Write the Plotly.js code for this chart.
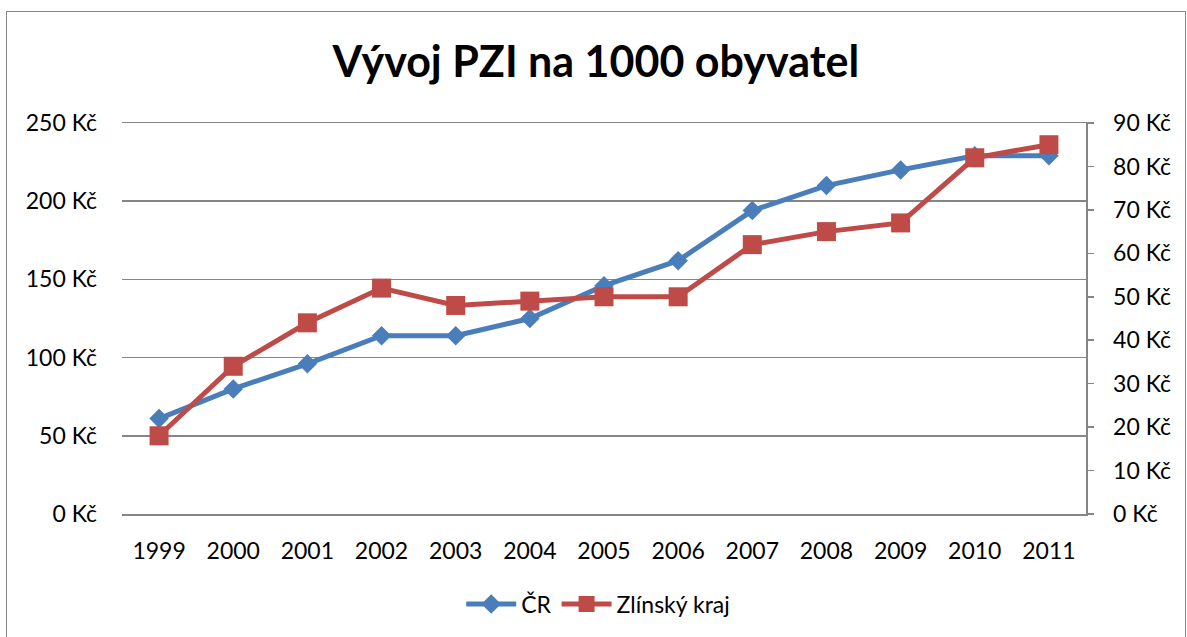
<!DOCTYPE html>
<html>
<head>
<meta charset="utf-8">
<script src="https://cdn.plot.ly/plotly-3.0.1.min.js"></script>
<style>
html,body{margin:0;padding:0;background:#fff;}
#wrap{position:relative;width:1187px;height:637px;overflow:hidden;}
#chart{width:1187px;height:637px;}
#frame{position:absolute;left:6px;top:11px;width:1180px;height:640px;border:1.5px solid #868686;pointer-events:none;box-sizing:border-box;}
</style>
</head>
<body>
<div id="wrap"><div id="chart"></div><div id="frame"></div></div>
<script>
const years = ['1999','2000','2001','2002','2003','2004','2005','2006','2007','2008','2009','2010','2011'];
const crValues = [61, 80, 96, 114, 114, 125, 146, 162, 194, 210, 220, 229, 229];
const zlinValues = [18, 34, 44, 52, 48, 49, 50, 50, 62, 65, 67, 82, 85];
const seriesNames = ['ČR', 'Zlínský kraj'];
const chartTitle = 'Vývoj PZI na 1000 obyvatel';

const FONT = 'Lato, "Open Sans", sans-serif';
const GRID = '#868686';
const traces = [
  {x: years, y: crValues, name: seriesNames[0], type: 'scatter', mode: 'lines+markers',
   line: {color: '#4a7ebb', width: 5}, marker: {symbol: 'diamond', size: 15, color: '#4a7ebb'}, yaxis: 'y'},
  {x: years, y: zlinValues, name: seriesNames[1], type: 'scatter', mode: 'lines+markers',
   line: {color: '#be4b48', width: 5}, marker: {symbol: 'square', size: 19, color: '#be4b48'}, yaxis: 'y2'}
];
const layout = {
  width: 1187, height: 637,
  margin: {l: 122, r: 101, t: 123, b: 123},
  paper_bgcolor: '#fff', plot_bgcolor: '#fff',
  font: {family: FONT, size: 23, color: '#000'},
  title: {text: '<b>' + chartTitle + '</b>', font: {family: FONT, size: 43, color: '#000'},
          x: 0.502, xanchor: 'center', y: 0.903, yanchor: 'middle'},
  xaxis: {type: 'category', range: [-0.5, 12.5], showgrid: false, zeroline: false,
          showline: true, mirror: true, linecolor: GRID, linewidth: 1.5,
          ticks: '', ticklabelstandoff: 16, tickfont: {size: 23}},
  yaxis: {range: [0, 250], dtick: 50, ticksuffix: ' Kč', showgrid: true, gridcolor: GRID, gridwidth: 1.5,
          zeroline: false, showline: false, ticks: '', ticklabelstandoff: 24, tickfont: {size: 23}},
  yaxis2: {range: [0, 90], dtick: 10, ticksuffix: ' Kč', overlaying: 'y', side: 'right', showgrid: false,
           zeroline: false, showline: true, linecolor: GRID, linewidth: 1.5,
           ticks: 'outside', ticklen: 6, tickcolor: GRID, tickwidth: 1.5, ticklabelstandoff: 15, tickfont: {size: 23}},
  showlegend: true,
  legend: {orientation: 'h', x: 0.494, xanchor: 'center', y: -0.23, yanchor: 'middle', font: {size: 23},
           itemwidth: 50},
  hovermode: false
};
Plotly.newPlot('chart', traces, layout, {displayModeBar: false, staticPlot: true});
</script>
</body>
</html>
